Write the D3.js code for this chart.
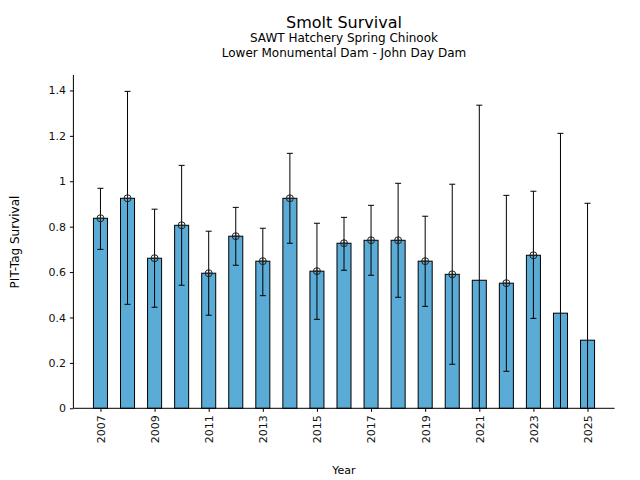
<!DOCTYPE html>
<html>
<head>
<meta charset="utf-8">
<script src="https://cdn.jsdelivr.net/npm/d3@7"></script>
<style>
body { margin: 0; background: #fff; }
text { font-family: "DejaVu Sans", sans-serif; }
</style>
</head>
<body>
<script>
var width = 640, height = 480;

var years    = [2007, 2008, 2009, 2010, 2011, 2012, 2013, 2014, 2015, 2016, 2017, 2018, 2019, 2020, 2021, 2022, 2023, 2024, 2025];
var survival = [0.837, 0.925, 0.661, 0.806, 0.595, 0.758, 0.648, 0.925, 0.604, 0.727, 0.740, 0.740, 0.648, 0.590, 0.564, 0.551, 0.674, 0.419, 0.300];
var upper    = [0.969, 1.396, 0.877, 1.070, 0.780, 0.885, 0.793, 1.123, 0.815, 0.841, 0.894, 0.991, 0.846, 0.987, 1.335, 0.938, 0.956, 1.211, 0.903];
var lower    = [0.700, 0.458, 0.445, 0.542, 0.410, 0.630, 0.496, 0.727, 0.392, 0.608, 0.586, 0.489, 0.449, 0.194, null, 0.163, 0.396, null, null];
var marked   = [true, true, true, true, true, true, true, true, true, true, true, true, true, true, false, true, true, false, false];
var yTicks   = [0, 0.2, 0.4, 0.6, 0.8, 1, 1.2, 1.4];
var xTicks   = [2007, 2009, 2011, 2013, 2015, 2017, 2019, 2021, 2023, 2025];

var rows = years.map(function(y, i) {
	return {year: y, value: survival[i], hi: upper[i], lo: lower[i], mark: marked[i]};
});

var svg = d3.select("body").append("svg")
	.attr("width", width)
	.attr("height", height);

var x = d3.scaleLinear().domain([2006, 2026]).range([73.4, 614.6]);
var y = d3.scaleLinear().domain([0, 1.468]).range([408.3, 75]);
var barW = x(2006.5) - x(2006) + 0.5;

// bars
svg.selectAll("rect.bar")
	.data(rows)
	.enter()
	.append("rect")
	.attr("class", "bar")
	.attr("x", function(d) { return x(d.year) - barW / 2; })
	.attr("y", function(d) { return y(d.value); })
	.attr("width", barW)
	.attr("height", function(d) { return y(0) - y(d.value); })
	.attr("fill", "#5aacd6")
	.attr("stroke", "black")
	.attr("stroke-width", 1);

// error bars
var err = svg.selectAll("g.err")
	.data(rows)
	.enter()
	.append("g")
	.attr("class", "err");

err.append("line")
	.attr("x1", function(d) { return x(d.year); })
	.attr("x2", function(d) { return x(d.year); })
	.attr("y1", function(d) { return y(d.hi); })
	.attr("y2", function(d) { return y(d.lo === null ? 0 : d.lo); })
	.attr("stroke", "black")
	.attr("stroke-width", 1);

err.append("line")
	.attr("x1", function(d) { return x(d.year) - 3; })
	.attr("x2", function(d) { return x(d.year) + 3; })
	.attr("y1", function(d) { return y(d.hi); })
	.attr("y2", function(d) { return y(d.hi); })
	.attr("stroke", "black")
	.attr("stroke-width", 1);

err.filter(function(d) { return d.lo !== null; })
	.append("line")
	.attr("x1", function(d) { return x(d.year) - 3; })
	.attr("x2", function(d) { return x(d.year) + 3; })
	.attr("y1", function(d) { return y(d.lo); })
	.attr("y2", function(d) { return y(d.lo); })
	.attr("stroke", "black")
	.attr("stroke-width", 1);

// point markers (circle with cross)
var mk = svg.selectAll("g.mk")
	.data(rows.filter(function(d) { return d.mark; }))
	.enter()
	.append("g")
	.attr("class", "mk")
	.attr("transform", function(d) { return "translate(" + x(d.year) + "," + y(d.value) + ")"; });

mk.append("circle")
	.attr("r", 3.5)
	.attr("fill", "none")
	.attr("stroke", "#222")
	.attr("stroke-width", 1);
mk.append("path")
	.attr("d", "M-3.5,0H3.5M0,-3.5V3.5")
	.attr("stroke", "#222")
	.attr("stroke-width", 1);

// axes
var yAxis = svg.append("g")
	.attr("transform", "translate(" + x(2006) + ",0)")
	.call(d3.axisLeft(y).tickValues(yTicks).tickSize(3.5).tickPadding(4)
		.tickFormat(function(d) { return d3.format("")(d); }));
var xAxis = svg.append("g")
	.attr("transform", "translate(0," + y(0) + ")")
	.call(d3.axisBottom(x).tickValues(xTicks).tickSize(3.5).tickFormat(d3.format("d")));

[yAxis, xAxis].forEach(function(a) {
	a.select(".domain").attr("stroke", "black").attr("stroke-width", 1);
	a.selectAll(".tick line").attr("stroke", "black");
	a.selectAll("text").attr("font-family", "DejaVu Sans").attr("font-size", 11).attr("fill", "#111");
});
yAxis.select(".domain").attr("d", "M0," + y(1.468) + "V" + y(0));
xAxis.select(".domain").attr("d", "M" + x(2006) + ",0H" + x(2026));

xAxis.selectAll(".tick text")
	.attr("transform", "rotate(-90)")
	.attr("text-anchor", "end")
	.attr("x", -7)
	.attr("y", 0)
	.attr("dy", "0.35em");

// labels
svg.append("text")
	.attr("x", 344).attr("y", 474)
	.attr("text-anchor", "middle")
	.attr("font-size", 11)
	.text("Year");

svg.append("text")
	.attr("transform", "translate(19,242) rotate(-90)")
	.attr("text-anchor", "middle")
	.attr("font-size", 12)
	.text("PIT-Tag Survival");

svg.append("text")
	.attr("x", 344).attr("y", 28)
	.attr("text-anchor", "middle")
	.attr("font-size", 16)
	.text("Smolt Survival");
svg.append("text")
	.attr("x", 344).attr("y", 42)
	.attr("text-anchor", "middle")
	.attr("font-size", 12)
	.text("SAWT Hatchery Spring Chinook");
svg.append("text")
	.attr("x", 344).attr("y", 57)
	.attr("text-anchor", "middle")
	.attr("font-size", 12)
	.text("Lower Monumental Dam - John Day Dam");
</script>
</body>
</html>
